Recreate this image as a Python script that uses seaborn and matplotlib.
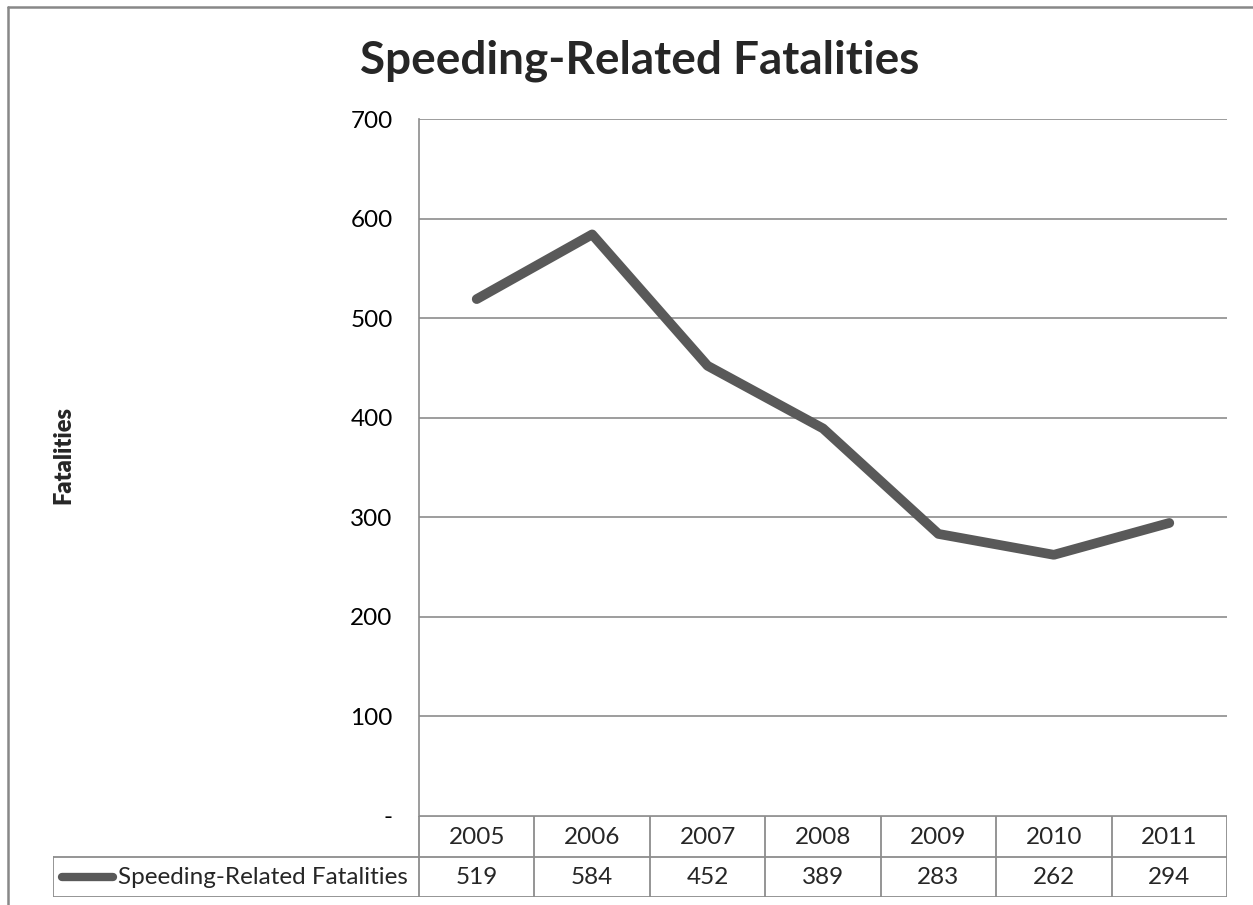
import matplotlib
matplotlib.use("Agg")
import matplotlib.pyplot as plt
from matplotlib.lines import Line2D
import seaborn as sns

# Data
years = ["2005", "2006", "2007", "2008", "2009", "2010", "2011"]
fatalities = [519, 584, 452, 389, 283, 262, 294]
series_name = "Speeding-Related Fatalities"
y_ticks = [0, 100, 200, 300, 400, 500, 600, 700]
y_tick_labels = ["-", "100", "200", "300", "400", "500", "600", "700"]

sns.set_style("white")
plt.rcParams["font.family"] = ["Lato", "DejaVu Sans"]

W, H = 1253, 905
fig = plt.figure(figsize=(W / 100, H / 100), dpi=100)

line_col = "#595959"
grid_col = "#8c8c8c"
fs = 17.5

def px_box(x0, y0, x1, y1):
    return [x0 / W, 1 - y1 / H, (x1 - x0) / W, (y1 - y0) / H]

# main plot area
ax = fig.add_axes(px_box(419, 119, 1227, 815.5))
xpos = list(range(len(years)))
sns.lineplot(x=xpos, y=fatalities, ax=ax, color=line_col, linewidth=7,
             solid_joinstyle="round", solid_capstyle="round", zorder=3)
ax.set_xlim(-0.5, len(years) - 0.5)
ax.set_ylim(0, 700)
ax.set_yticks(y_ticks)
ax.set_yticklabels(y_tick_labels, fontsize=fs, color="black")
ax.tick_params(axis="y", length=0, pad=19)
ax.set_xticks([])
ax.grid(axis="y", color=grid_col, linewidth=1.2)
for s in ["top", "right", "bottom"]:
    ax.spines[s].set_visible(False)
ax.spines["left"].set_color(grid_col)
ax.spines["left"].set_linewidth(1.2)
ax.set_ylabel("")

# data table below the plot
col_w = (1227 - 419) / len(years)
tax = fig.add_axes(px_box(53, 816, 1227, 897))
left_lim = -0.5 - (419 - 53) / col_w
tax.set_xlim(left_lim, len(years) - 0.5)
tax.set_ylim(2, 0)
tax.axis("off")
tw = 1.3
tax.plot([-0.5, len(years) - 0.5], [0, 0], color=grid_col, lw=tw)
tax.plot([left_lim, len(years) - 0.5], [1, 1], color=grid_col, lw=tw)
tax.plot([left_lim, len(years) - 0.5], [2, 2], color=grid_col, lw=tw)
tax.plot([left_lim, left_lim], [1, 2], color=grid_col, lw=tw)
for i in range(len(years) + 1):
    tax.plot([i - 0.5, i - 0.5], [0, 2], color=grid_col, lw=tw)
for i, (yr, v) in enumerate(zip(years, fatalities)):
    tax.text(i, 0.52, yr, ha="center", va="center", fontsize=fs)
    tax.text(i, 1.52, str(v), ha="center", va="center", fontsize=fs)
# legend key
key_x0 = left_lim + (62 - 53) / col_w
key_x1 = left_lim + (113 - 53) / col_w
tax.plot([key_x0, key_x1], [1.5, 1.5], color=line_col, lw=6, solid_capstyle="round")
tax.text(left_lim + (118 - 53) / col_w, 1.52, series_name, ha="left", va="center", fontsize=fs)

# title and y label
fig.text(640 / W, 1 - 61 / H, "Speeding-Related Fatalities", ha="center", va="center",
         fontsize=33, fontweight="bold")
fig.text(63 / W, 1 - 455 / H, "Fatalities", ha="center", va="center",
         rotation=90, fontsize=17, fontweight="heavy")

# outer chart frame
fig.add_artist(Line2D([8 / W, 8 / W], [0, 1 - 7 / H], color="#888888", lw=1.8))
fig.add_artist(Line2D([8 / W, 1], [1 - 7 / H, 1 - 7 / H], color="#888888", lw=1.8))

fig.savefig("out.png", dpi=100)
